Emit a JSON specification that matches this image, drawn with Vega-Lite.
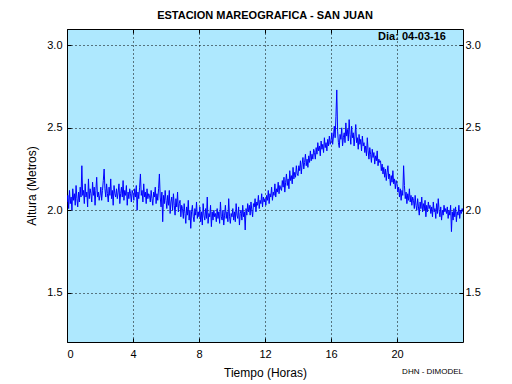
{
"$schema":"https://vega.github.io/schema/vega-lite/v6.json",
"width":396,"height":313,
"autosize":"none",
"padding":{"left":67,"top":29,"right":49,"bottom":42},
"background":"white",
"config":{"font":"Liberation Sans","view":{"fill":"#AEE8FE","stroke":"black","strokeWidth":1}},
"title":{"text":"ESTACION MAREOGRAFICA - SAN JUAN","fontSize":11,"fontWeight":"bold","anchor":"middle","offset":8,"color":"black","font":"Liberation Sans"},
"data":{"values":[
{"t":0,"h":2.05},{"t":3,"h":2.09},{"t":6,"h":2.01},{"t":9,"h":2.12},{"t":12,"h":2.04},{"t":15,"h":2.08},{"t":18,"h":2.00},{"t":21,"h":2.13},{"t":24,"h":2.06},{"t":27,"h":2.10},{"t":30,"h":2.03},{"t":33,"h":2.15},{"t":36,"h":2.07},{"t":39,"h":2.02},{"t":42,"h":2.11},{"t":45,"h":2.05},{"t":48,"h":2.14},{"t":51,"h":2.08},{"t":54,"h":2.27},{"t":57,"h":2.09},
{"t":60,"h":2.12},{"t":63,"h":2.04},{"t":66,"h":2.16},{"t":69,"h":2.08},{"t":72,"h":2.11},{"t":75,"h":2.02},{"t":78,"h":2.19},{"t":81,"h":2.07},{"t":84,"h":2.13},{"t":87,"h":2.10},{"t":90,"h":2.05},{"t":93,"h":2.17},{"t":96,"h":2.09},{"t":99,"h":2.14},{"t":102,"h":2.03},{"t":105,"h":2.12},{"t":108,"h":2.20},{"t":111,"h":2.08},{"t":114,"h":2.11},{"t":117,"h":2.06},
{"t":120,"h":2.09},{"t":123,"h":2.14},{"t":126,"h":2.06},{"t":129,"h":2.12},{"t":132,"h":2.18},{"t":135,"h":2.25},{"t":138,"h":2.13},{"t":141,"h":2.08},{"t":144,"h":2.16},{"t":147,"h":2.10},{"t":150,"h":2.05},{"t":153,"h":2.14},{"t":156,"h":2.09},{"t":159,"h":2.19},{"t":162,"h":2.07},{"t":165,"h":2.12},{"t":168,"h":2.03},{"t":171,"h":2.15},{"t":174,"h":2.10},{"t":177,"h":2.08},
{"t":180,"h":2.13},{"t":183,"h":2.07},{"t":186,"h":2.11},{"t":189,"h":2.16},{"t":192,"h":2.04},{"t":195,"h":2.10},{"t":198,"h":2.14},{"t":201,"h":2.08},{"t":204,"h":2.18},{"t":207,"h":2.06},{"t":210,"h":2.12},{"t":213,"h":2.09},{"t":216,"h":2.15},{"t":219,"h":2.03},{"t":222,"h":2.11},{"t":225,"h":2.07},{"t":228,"h":2.13},{"t":231,"h":2.10},{"t":234,"h":2.05},{"t":237,"h":2.12},
{"t":240,"h":2.10},{"t":243,"h":2.06},{"t":246,"h":2.13},{"t":249,"h":2.08},{"t":252,"h":2.15},{"t":255,"h":2.00},{"t":258,"h":2.11},{"t":261,"h":2.07},{"t":264,"h":2.14},{"t":267,"h":2.22},{"t":270,"h":2.09},{"t":273,"h":2.12},{"t":276,"h":2.05},{"t":279,"h":2.16},{"t":282,"h":2.08},{"t":285,"h":2.11},{"t":288,"h":2.04},{"t":291,"h":2.13},{"t":294,"h":2.07},{"t":297,"h":2.10},
{"t":300,"h":2.09},{"t":303,"h":2.05},{"t":306,"h":2.12},{"t":309,"h":2.07},{"t":312,"h":2.03},{"t":315,"h":2.11},{"t":318,"h":2.08},{"t":321,"h":2.14},{"t":324,"h":2.04},{"t":327,"h":2.10},{"t":330,"h":2.06},{"t":333,"h":2.13},{"t":336,"h":2.22},{"t":339,"h":2.08},{"t":342,"h":2.02},{"t":345,"h":2.11},{"t":348,"h":1.93},{"t":351,"h":2.09},{"t":354,"h":2.04},{"t":357,"h":2.12},
{"t":360,"h":2.06},{"t":363,"h":2.01},{"t":366,"h":2.09},{"t":369,"h":2.03},{"t":372,"h":2.12},{"t":375,"h":1.98},{"t":378,"h":2.05},{"t":381,"h":2.08},{"t":384,"h":2.00},{"t":387,"h":2.10},{"t":390,"h":2.03},{"t":393,"h":1.97},{"t":396,"h":2.07},{"t":399,"h":2.02},{"t":402,"h":2.11},{"t":405,"h":1.99},{"t":408,"h":2.04},{"t":411,"h":2.06},{"t":414,"h":1.96},{"t":417,"h":2.03},
{"t":420,"h":2.01},{"t":423,"h":1.95},{"t":426,"h":2.04},{"t":429,"h":1.98},{"t":432,"h":1.92},{"t":435,"h":2.02},{"t":438,"h":1.97},{"t":441,"h":2.06},{"t":444,"h":1.94},{"t":447,"h":2.00},{"t":450,"h":1.89},{"t":453,"h":1.99},{"t":456,"h":2.03},{"t":459,"h":1.96},{"t":462,"h":1.93},{"t":465,"h":2.01},{"t":468,"h":1.97},{"t":471,"h":2.05},{"t":474,"h":1.95},{"t":477,"h":1.99},
{"t":480,"h":1.96},{"t":483,"h":2.02},{"t":486,"h":1.93},{"t":489,"h":1.99},{"t":492,"h":1.91},{"t":495,"h":2.04},{"t":498,"h":1.97},{"t":501,"h":1.94},{"t":504,"h":2.01},{"t":507,"h":1.95},{"t":510,"h":2.08},{"t":513,"h":1.92},{"t":516,"h":1.98},{"t":519,"h":1.96},{"t":522,"h":2.03},{"t":525,"h":1.90},{"t":528,"h":1.99},{"t":531,"h":1.94},{"t":534,"h":2.00},{"t":537,"h":1.96},
{"t":540,"h":1.98},{"t":543,"h":1.93},{"t":546,"h":2.01},{"t":549,"h":1.95},{"t":552,"h":1.99},{"t":555,"h":1.92},{"t":558,"h":2.05},{"t":561,"h":1.96},{"t":564,"h":1.94},{"t":567,"h":2.00},{"t":570,"h":1.91},{"t":573,"h":1.97},{"t":576,"h":2.03},{"t":579,"h":1.95},{"t":582,"h":1.99},{"t":585,"h":1.93},{"t":588,"h":2.07},{"t":591,"h":1.96},{"t":594,"h":1.92},{"t":597,"h":1.98},
{"t":600,"h":1.96},{"t":603,"h":2.01},{"t":606,"h":1.94},{"t":609,"h":1.99},{"t":612,"h":1.93},{"t":615,"h":2.04},{"t":618,"h":1.97},{"t":621,"h":1.95},{"t":624,"h":2.02},{"t":627,"h":1.91},{"t":630,"h":1.98},{"t":633,"h":2.00},{"t":636,"h":1.94},{"t":639,"h":2.03},{"t":642,"h":1.96},{"t":645,"h":1.99},{"t":648,"h":1.88},{"t":651,"h":2.01},{"t":654,"h":1.97},{"t":657,"h":2.04},
{"t":660,"h":1.99},{"t":663,"h":2.03},{"t":666,"h":1.97},{"t":669,"h":2.05},{"t":672,"h":2.00},{"t":675,"h":1.96},{"t":678,"h":2.04},{"t":681,"h":2.02},{"t":684,"h":2.07},{"t":687,"h":1.99},{"t":690,"h":2.05},{"t":693,"h":2.03},{"t":696,"h":2.09},{"t":699,"h":2.01},{"t":702,"h":2.06},{"t":705,"h":2.04},{"t":708,"h":2.10},{"t":711,"h":2.02},{"t":714,"h":2.08},{"t":717,"h":2.05},
{"t":720,"h":2.07},{"t":723,"h":2.03},{"t":726,"h":2.09},{"t":729,"h":2.06},{"t":732,"h":2.12},{"t":735,"h":2.04},{"t":738,"h":2.10},{"t":741,"h":2.08},{"t":744,"h":2.14},{"t":747,"h":2.06},{"t":750,"h":2.11},{"t":753,"h":2.09},{"t":756,"h":2.16},{"t":759,"h":2.08},{"t":762,"h":2.13},{"t":765,"h":2.11},{"t":768,"h":2.17},{"t":771,"h":2.10},{"t":774,"h":2.15},{"t":777,"h":2.13},
{"t":780,"h":2.12},{"t":783,"h":2.18},{"t":786,"h":2.14},{"t":789,"h":2.20},{"t":792,"h":2.11},{"t":795,"h":2.17},{"t":798,"h":2.22},{"t":801,"h":2.15},{"t":804,"h":2.19},{"t":807,"h":2.13},{"t":810,"h":2.24},{"t":813,"h":2.18},{"t":816,"h":2.21},{"t":819,"h":2.16},{"t":822,"h":2.26},{"t":825,"h":2.19},{"t":828,"h":2.23},{"t":831,"h":2.20},{"t":834,"h":2.27},{"t":837,"h":2.22},
{"t":840,"h":2.21},{"t":843,"h":2.27},{"t":846,"h":2.24},{"t":849,"h":2.30},{"t":852,"h":2.22},{"t":855,"h":2.28},{"t":858,"h":2.32},{"t":861,"h":2.25},{"t":864,"h":2.29},{"t":867,"h":2.34},{"t":870,"h":2.27},{"t":873,"h":2.31},{"t":876,"h":2.26},{"t":879,"h":2.33},{"t":882,"h":2.29},{"t":885,"h":2.36},{"t":888,"h":2.30},{"t":891,"h":2.34},{"t":894,"h":2.31},{"t":897,"h":2.37},
{"t":900,"h":2.35},{"t":903,"h":2.31},{"t":906,"h":2.38},{"t":909,"h":2.34},{"t":912,"h":2.41},{"t":915,"h":2.36},{"t":918,"h":2.39},{"t":921,"h":2.33},{"t":924,"h":2.42},{"t":927,"h":2.37},{"t":930,"h":2.40},{"t":933,"h":2.35},{"t":936,"h":2.44},{"t":939,"h":2.38},{"t":942,"h":2.41},{"t":945,"h":2.36},{"t":948,"h":2.43},{"t":951,"h":2.39},{"t":954,"h":2.45},{"t":957,"h":2.40},
{"t":960,"h":2.42},{"t":963,"h":2.47},{"t":966,"h":2.40},{"t":969,"h":2.45},{"t":972,"h":2.51},{"t":975,"h":2.44},{"t":978,"h":2.57},{"t":981,"h":2.73},{"t":984,"h":2.48},{"t":987,"h":2.41},{"t":990,"h":2.38},{"t":993,"h":2.46},{"t":996,"h":2.43},{"t":999,"h":2.50},{"t":1002,"h":2.39},{"t":1005,"h":2.44},{"t":1008,"h":2.47},{"t":1011,"h":2.41},{"t":1014,"h":2.53},{"t":1017,"h":2.45},
{"t":1020,"h":2.49},{"t":1023,"h":2.42},{"t":1026,"h":2.55},{"t":1029,"h":2.46},{"t":1032,"h":2.40},{"t":1035,"h":2.51},{"t":1038,"h":2.44},{"t":1041,"h":2.47},{"t":1044,"h":2.39},{"t":1047,"h":2.45},{"t":1050,"h":2.52},{"t":1053,"h":2.41},{"t":1056,"h":2.44},{"t":1059,"h":2.37},{"t":1062,"h":2.46},{"t":1065,"h":2.40},{"t":1068,"h":2.43},{"t":1071,"h":2.36},{"t":1074,"h":2.45},{"t":1077,"h":2.39},
{"t":1080,"h":2.41},{"t":1083,"h":2.35},{"t":1086,"h":2.39},{"t":1089,"h":2.33},{"t":1092,"h":2.44},{"t":1095,"h":2.36},{"t":1098,"h":2.31},{"t":1101,"h":2.38},{"t":1104,"h":2.34},{"t":1107,"h":2.29},{"t":1110,"h":2.37},{"t":1113,"h":2.32},{"t":1116,"h":2.35},{"t":1119,"h":2.28},{"t":1122,"h":2.33},{"t":1125,"h":2.30},{"t":1128,"h":2.36},{"t":1131,"h":2.27},{"t":1134,"h":2.31},{"t":1137,"h":2.29},
{"t":1140,"h":2.30},{"t":1143,"h":2.24},{"t":1146,"h":2.28},{"t":1149,"h":2.22},{"t":1152,"h":2.26},{"t":1155,"h":2.20},{"t":1158,"h":2.25},{"t":1161,"h":2.18},{"t":1164,"h":2.23},{"t":1167,"h":2.27},{"t":1170,"h":2.19},{"t":1173,"h":2.22},{"t":1176,"h":2.15},{"t":1179,"h":2.21},{"t":1182,"h":2.17},{"t":1185,"h":2.24},{"t":1188,"h":2.16},{"t":1191,"h":2.19},{"t":1194,"h":2.13},{"t":1197,"h":2.18},
{"t":1200,"h":2.16},{"t":1203,"h":2.11},{"t":1206,"h":2.14},{"t":1209,"h":2.08},{"t":1212,"h":2.13},{"t":1215,"h":2.06},{"t":1218,"h":2.12},{"t":1221,"h":2.09},{"t":1224,"h":2.27},{"t":1227,"h":2.15},{"t":1230,"h":2.07},{"t":1233,"h":2.11},{"t":1236,"h":2.04},{"t":1239,"h":2.10},{"t":1242,"h":2.06},{"t":1245,"h":2.13},{"t":1248,"h":2.05},{"t":1251,"h":2.09},{"t":1254,"h":2.03},{"t":1257,"h":2.08},
{"t":1260,"h":2.06},{"t":1263,"h":2.01},{"t":1266,"h":2.09},{"t":1269,"h":2.03},{"t":1272,"h":2.00},{"t":1275,"h":2.07},{"t":1278,"h":2.02},{"t":1281,"h":1.97},{"t":1284,"h":2.05},{"t":1287,"h":2.01},{"t":1290,"h":2.08},{"t":1293,"h":1.99},{"t":1296,"h":2.04},{"t":1299,"h":2.00},{"t":1302,"h":2.06},{"t":1305,"h":1.96},{"t":1308,"h":2.03},{"t":1311,"h":1.99},{"t":1314,"h":2.05},{"t":1317,"h":2.01},
{"t":1320,"h":2.03},{"t":1323,"h":1.98},{"t":1326,"h":2.02},{"t":1329,"h":1.96},{"t":1332,"h":2.05},{"t":1335,"h":1.99},{"t":1338,"h":2.01},{"t":1341,"h":1.95},{"t":1344,"h":2.04},{"t":1347,"h":1.98},{"t":1350,"h":2.07},{"t":1353,"h":2.00},{"t":1356,"h":1.96},{"t":1359,"h":2.02},{"t":1362,"h":1.94},{"t":1365,"h":2.00},{"t":1368,"h":1.97},{"t":1371,"h":2.03},{"t":1374,"h":1.99},{"t":1377,"h":2.01},
{"t":1380,"h":1.98},{"t":1383,"h":2.02},{"t":1386,"h":1.95},{"t":1389,"h":2.00},{"t":1392,"h":1.97},{"t":1395,"h":2.03},{"t":1398,"h":1.87},{"t":1401,"h":1.99},{"t":1404,"h":1.94},{"t":1407,"h":2.01},{"t":1410,"h":1.96},{"t":1413,"h":2.02},{"t":1416,"h":1.93},{"t":1419,"h":1.99},{"t":1422,"h":1.97},{"t":1425,"h":2.03},{"t":1428,"h":1.95},{"t":1431,"h":2.00},{"t":1434,"h":1.98},{"t":1437,"h":2.01},
{"t":1440,"h":1.99}
]},
"layer":[
{"mark":{"type":"line","color":"#0000FF","strokeWidth":1,"clip":true},
 "encoding":{
  "x":{"field":"t","type":"quantitative","scale":{"domain":[0,1440],"nice":false},
       "axis":{"orient":"bottom","title":"Tiempo (Horas)","values":[0,240,480,720,960,1200],"labelExpr":"datum.value/60","domain":false,
               "grid":true,"gridColor":"black","gridDash":[1,3],"gridOpacity":1,"gridWidth":1,
               "tickColor":"black","tickSize":-4,"labelPadding":10,"labelFontSize":11,"labelColor":"black","labelFont":"Liberation Sans",
               "titleFontSize":12,"titleFontWeight":"normal","titleColor":"black","titleFont":"Liberation Sans","titlePadding":8}},
  "y":{"field":"h","type":"quantitative","scale":{"domain":[1.2,3.1],"nice":false,"zero":false},
       "axis":{"orient":"left","title":"Altura (Metros)","values":[1.5,2,2.5,3],"format":".1f","domain":false,
               "grid":true,"gridColor":"black","gridDash":[1,3],"gridOpacity":1,"gridWidth":1,
               "tickColor":"black","tickSize":-4,"labelPadding":9,"labelFontSize":11,"labelColor":"black","labelFont":"Liberation Sans",
               "titleFontSize":12,"titleFontWeight":"normal","titleColor":"black","titleFont":"Liberation Sans","titlePadding":8}}
 }},
{"data":{"values":[{"label":"Dia: 04-03-16"}]},
 "mark":{"type":"text","align":"right","baseline":"middle","fontWeight":"bold","fontSize":11,"font":"Liberation Sans","color":"black"},
 "encoding":{
  "text":{"field":"label"},
  "x":{"datum":1378,"type":"quantitative","axis":{"orient":"top","labels":false,"title":null,"values":[0,240,480,720,960,1200],"domain":false,"grid":false,"tickColor":"black","tickSize":-4}},
  "y":{"datum":3.05,"type":"quantitative","axis":{"orient":"right","title":null,"values":[1.5,2,2.5,3],"format":".1f","domain":false,"grid":false,"tickColor":"black","tickSize":-4,"labelPadding":6,"labelFontSize":11,"labelColor":"black","labelFont":"Liberation Sans"}}
 }},
{"data":{"values":[{"label":"DHN - DIMODEL"}]},
 "mark":{"type":"text","align":"right","baseline":"middle","fontSize":8,"font":"Liberation Sans","color":"black","clip":false},
 "encoding":{
  "text":{"field":"label"},
  "x":{"datum":1440,"type":"quantitative","axis":null},
  "y":{"datum":1.02,"type":"quantitative","axis":null}
 }}
],
"resolve":{"axis":{"x":"independent","y":"independent"}}
}
